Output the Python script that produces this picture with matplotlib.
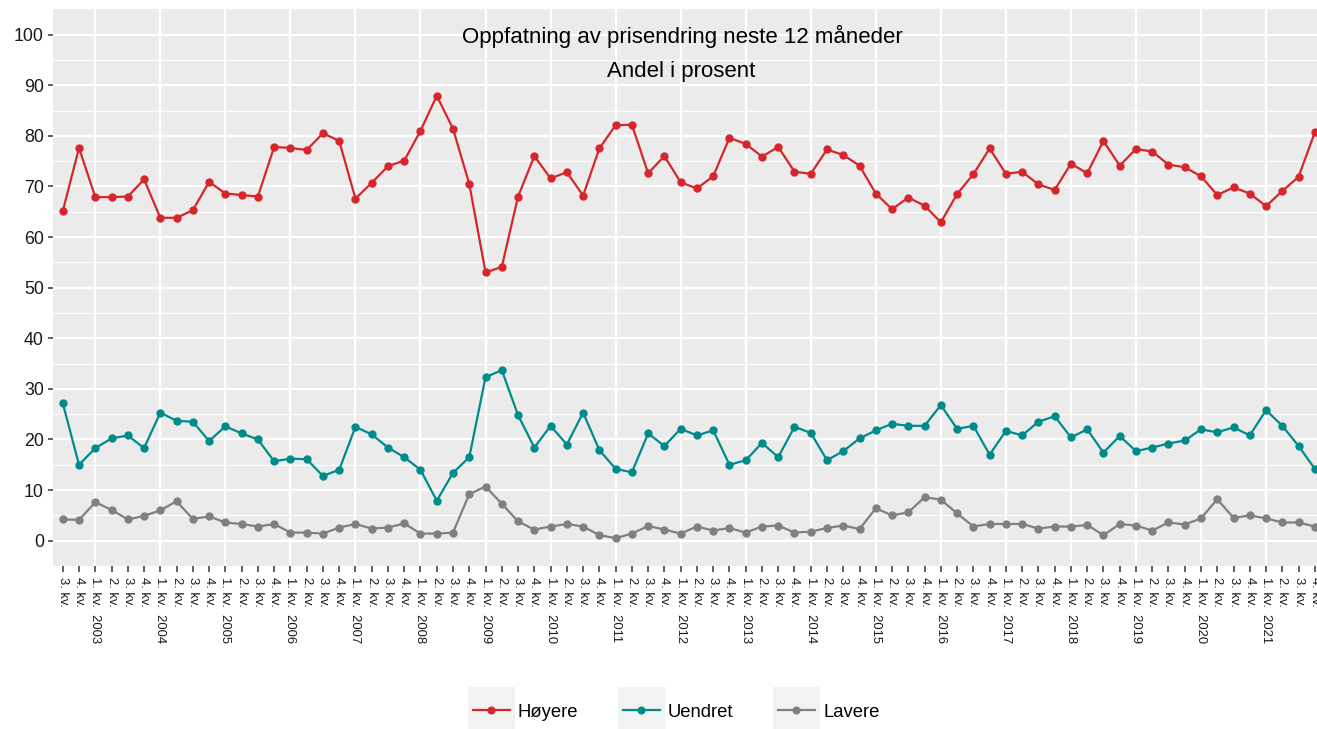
import numpy as np
import matplotlib
matplotlib.use('Agg')
import matplotlib.pyplot as plt
from matplotlib.legend_handler import HandlerLine2D
from matplotlib.patches import Rectangle
from matplotlib.lines import Line2D

plt.rcParams['font.family'] = ['Liberation Sans', 'DejaVu Sans']

# data: quarters from 3. kv. 2002 to 4. kv. 2021
start_quarters = ['3. kv.', '4. kv.']
years = list(range(2003, 2022))
quarter_names = ['1. kv.', '2. kv.', '3. kv.', '4. kv.']

hoyere = [65.1, 77.6, 67.9, 67.9, 68.0, 71.4, 63.8, 63.8, 65.3, 70.9,
          68.6, 68.3, 68.0, 77.8, 77.6, 77.2, 80.5, 79.0, 67.6, 70.7,
          74.0, 75.1, 81.0, 87.9, 81.4, 70.5, 53.0, 54.1, 68.0, 76.0,
          71.6, 72.8, 68.2, 77.5, 82.1, 82.2, 72.6, 76.0, 70.8, 69.6,
          72.0, 79.6, 78.4, 75.9, 77.8, 72.9, 72.5, 77.3, 76.2, 74.1,
          68.6, 65.5, 67.8, 66.2, 62.9, 68.5, 72.4, 77.5, 72.5, 72.9,
          70.4, 69.3, 74.5, 72.6, 79.0, 74.1, 77.4, 76.9, 74.3, 73.8,
          72.0, 68.3, 69.8, 68.6, 66.1, 69.1, 71.9, 80.7]

uendret = [27.2, 15.0, 18.3, 20.2, 20.8, 18.3, 25.3, 23.7, 23.5, 19.7,
           22.6, 21.2, 20.0, 15.7, 16.2, 16.1, 12.8, 14.0, 22.5, 21.0,
           18.4, 16.5, 14.0, 7.9, 13.4, 16.5, 32.3, 33.7, 24.8, 18.4,
           22.7, 19.0, 25.3, 17.9, 14.2, 13.5, 21.2, 18.7, 22.1, 20.8,
           21.8, 15.0, 15.9, 19.3, 16.5, 22.5, 21.3, 15.9, 17.7, 20.2,
           21.8, 23.1, 22.7, 22.7, 26.8, 22.1, 22.7, 17.0, 21.7, 20.8,
           23.5, 24.6, 20.4, 22.0, 17.4, 20.7, 17.7, 18.4, 19.2, 19.8,
           22.0, 21.4, 22.4, 20.8, 25.8, 22.7, 18.7, 14.2]

lavere = [4.2, 4.1, 7.6, 6.1, 4.2, 4.9, 6.0, 7.8, 4.3, 4.8,
          3.6, 3.3, 2.8, 3.3, 1.6, 1.6, 1.4, 2.6, 3.3, 2.4,
          2.6, 3.4, 1.4, 1.4, 1.6, 9.2, 10.7, 7.3, 3.8, 2.2,
          2.8, 3.3, 2.8, 1.1, 0.5, 1.4, 2.9, 2.2, 1.4, 2.8,
          2.0, 2.5, 1.6, 2.8, 3.0, 1.6, 1.8, 2.5, 3.0, 2.3,
          6.4, 5.0, 5.6, 8.6, 8.1, 5.4, 2.8, 3.3, 3.3, 3.3,
          2.4, 2.8, 2.8, 3.1, 1.1, 3.3, 3.0, 2.0, 3.6, 3.2,
          4.4, 8.2, 4.5, 5.0, 4.4, 3.6, 3.6, 2.8]

series = ['Høyere', 'Uendret', 'Lavere']
colors = ['#D5262B', '#008B8B', '#808080']

labels = list(start_quarters)
for y in years:
    labels.append(quarter_names[0] + '  ' + str(y))
    labels += quarter_names[1:]
x = np.arange(len(labels))


class KeyHandler(HandlerLine2D):
    # ggplot-like legend key with grey square behind the line
    def create_artists(self, legend, orig_handle, xdescent, ydescent,
                       width, height, fontsize, trans):
        ext = 3.6
        side = width + 2 * ext
        cy = -ydescent + height / 2
        bg = Rectangle((-xdescent - ext, cy - side / 2), side, side,
                       facecolor='#F2F2F2', edgecolor='none', transform=trans)
        arts = super().create_artists(legend, orig_handle, xdescent, ydescent,
                                      width, height, fontsize, trans)
        return [bg] + arts


W, H = 1317, 729
fig = plt.figure(figsize=(W / 100, H / 100), dpi=100)
ax = fig.add_axes([53 / W, 1 - 566 / H, (1324.6 - 53) / W, (566 - 9.3) / H])
ax.set_facecolor('#EBEBEB')
for s in ax.spines.values():
    s.set_visible(False)

ax.set_ylim(-5, 105)
ax.set_xlim(-0.6, len(labels) - 0.4)

# grid
for v in np.arange(5, 105, 10):
    ax.axhline(v, color='white', lw=0.8, zorder=0)
for v in np.arange(0, 101, 10):
    ax.axhline(v, color='white', lw=1.6, zorder=0)
for i, lab in enumerate(labels):
    if lab.startswith('1.'):
        ax.axvline(i, color='white', lw=1.6, zorder=0)

for name, vals, c in zip(series, [hoyere, uendret, lavere], colors):
    ax.plot(x, vals, color=c, lw=1.6, marker='o', ms=5, label=name, zorder=3)

ax.set_yticks(np.arange(0, 101, 10))
ax.tick_params(axis='y', labelsize=12.8, colors='#333333', labelcolor='#1a1a1a',
               length=3.5, width=1.1, pad=3)
ax.set_xticks(x)
ax.set_xticklabels(labels, rotation=270, fontsize=9.4, va='top', ha='center')
ax.tick_params(axis='x', colors='#333333', labelcolor='#1a1a1a',
               length=4, width=1.1, pad=4)

fig.text(682 / W, 1 - 36 / H, 'Oppfatning av prisendring neste 12 måneder',
         ha='center', va='center', fontsize=16)
fig.text(681 / W, 1 - 71 / H, 'Andel i prosent',
         ha='center', va='center', fontsize=16)

handles = [Line2D([], [], color=c, lw=1.6, marker='o', ms=4.8) for c in colors]
leg = fig.legend(handles, series, loc='center', bbox_to_anchor=(676 / W, 1 - 712 / H),
                 ncol=3, frameon=False, fontsize=13.3, handlelength=2.0,
                 handleheight=1.0, handletextpad=0.45, columnspacing=2.4,
                 numpoints=1, handler_map={Line2D: KeyHandler(numpoints=1)})

fig.savefig('out.png', dpi=100)
